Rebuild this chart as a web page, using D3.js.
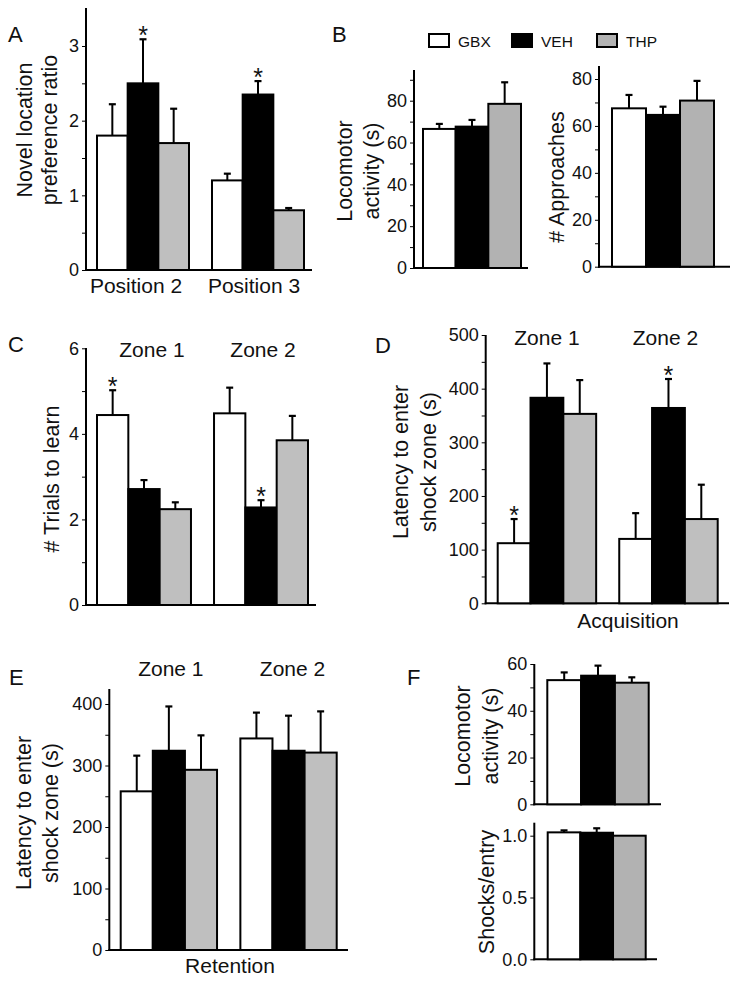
<!DOCTYPE html>
<html>
<head>
<meta charset="utf-8">
<script src="https://cdn.jsdelivr.net/npm/d3@7"></script>
<style>
  body { margin: 0; background: #fff; }
  svg { display: block; }
  text { font-family: "Liberation Sans", Arial, sans-serif; fill: #111; }
</style>
</head>
<body>
<svg width="739" height="985"></svg>
<script>
// groups shown in every panel
const groups = ["GBX", "VEH", "THP"]

// A - novel location preference
const posCategories = ["Position 2", "Position 3"]
const prefMeans = [[1.80, 2.50, 1.70], [1.20, 2.35, 0.80]]
const prefErrors = [[0.42, 0.59, 0.46], [0.09, 0.18, 0.03]]
const prefStars = [[1], [1]]

// B - locomotor activity and approaches
const locoMeansB = [[66.5, 67.6, 78.5]]
const locoErrorsB = [[2.4, 3.2, 10.3]]
const approachMeans = [[67.5, 64.7, 70.8]]
const approachErrors = [[5.7, 3.5, 8.4]]

// C - trials to learn
const zoneCategories = ["Zone 1", "Zone 2"]
const trialMeans = [[4.44, 2.71, 2.24], [4.48, 2.28, 3.85]]
const trialErrors = [[0.58, 0.21, 0.16], [0.60, 0.17, 0.57]]
const trialStars = [[0], [1]]

// D - acquisition latency
const acqMeans = [[112, 383, 353], [120, 364, 157]]
const acqErrors = [[45, 64, 63], [48, 54, 64]]
const acqStars = [[0], [1]]

// E - retention latency
const retMeans = [[258, 324, 293], [344, 324, 321]]
const retErrors = [[58, 72, 56], [42, 57, 67]]

// F - locomotor activity and shocks/entry
const locoMeansF = [[53.1, 55.0, 52.0]]
const locoErrorsF = [[3.3, 4.3, 2.3]]
const shockMeans = [[1.027, 1.024, 1.0]]
const shockErrors = [[0.016, 0.036, 0]]

const font = "'Liberation Sans', Arial, sans-serif"
const fillLight = ["#ffffff", "#000000", "#bfbfbf"]
const fillDark = ["#ffffff", "#000000", "#b2b2b2"]

let svg = d3.select("svg")

function drawPanel(svg, p) {
    const g = svg.append("g")
    const cats = p.cats || [""]
    const x = d3.scaleBand().domain(cats).range(p.xRange).paddingInner(p.pad || 0)
    const xg = d3.scaleBand().domain(groups).range([0, x.bandwidth()])
    const y = d3.scaleLinear().domain(p.domain).range(p.yRange)

    const rows = []
    cats.forEach((c, i) => {
        groups.forEach((gr, j) => {
            rows.push({
                cat: c, grp: gr, j: j,
                m: p.means[i][j], e: p.errs[i][j],
                star: p.stars ? p.stars[i].includes(j) : false
            })
        })
    })

    // axes
    const yAxis = g.append("g")
        .attr("transform", `translate(${p.axisX},0)`)
        .call(d3.axisLeft(y).tickValues(p.major).tickSize(4).tickPadding(3)
            .tickFormat(p.fmt || d3.format("d")))
        .attr("font-family", font)
        .attr("font-size", 18)
    yAxis.select(".domain").remove()
    yAxis.selectAll("text").style("fill", "#111")

    if (p.minor && p.minor.length) {
        const minorAxis = g.append("g")
            .attr("transform", `translate(${p.axisX},0)`)
            .call(d3.axisLeft(y).tickValues(p.minor).tickSize(4).tickFormat(""))
        minorAxis.select(".domain").remove()
    }

    g.append("line")
        .attr("x1", p.axisX).attr("x2", p.axisX)
        .attr("y1", y(0) + 1).attr("y2", p.axisTop)
        .attr("stroke", "#000").attr("stroke-width", 2)
    g.append("line")
        .attr("x1", p.axisX - 1).attr("x2", p.axisRight)
        .attr("y1", y(0)).attr("y2", y(0))
        .attr("stroke", "#000").attr("stroke-width", 2)

    // bars
    g.selectAll(".bar")
        .data(rows)
        .enter()
        .append("rect")
        .attr("class", "bar")
        .attr("x", d => x(d.cat) + xg(d.grp))
        .attr("width", xg.bandwidth())
        .attr("y", d => y(d.m))
        .attr("height", d => y(0) - y(d.m))
        .style("fill", d => p.fills[d.j])
        .style("stroke", "#000")
        .style("stroke-width", 2)

    // error bars
    const cx = d => x(d.cat) + xg(d.grp) + xg.bandwidth() / 2
    const errRows = rows.filter(d => d.e > 0)
    g.selectAll(".err")
        .data(errRows)
        .enter()
        .append("line")
        .attr("x1", cx).attr("x2", cx)
        .attr("y1", d => y(d.m)).attr("y2", d => y(d.m + d.e))
        .style("stroke", "#000").style("stroke-width", 2)
    g.selectAll(".cap")
        .data(errRows)
        .enter()
        .append("line")
        .attr("x1", d => cx(d) - 3.5).attr("x2", d => cx(d) + 3.5)
        .attr("y1", d => y(d.m + d.e)).attr("y2", d => y(d.m + d.e))
        .style("stroke", "#000").style("stroke-width", 2.2)

    // significance stars
    g.selectAll(".star")
        .data(rows.filter(d => d.star))
        .enter()
        .append("text")
        .attr("x", cx)
        .attr("y", d => y(d.m + d.e) + 5)
        .attr("text-anchor", "middle")
        .attr("font-size", 25)
        .text("*")

    // category / zone labels
    if (p.catLabels) {
        g.selectAll(".catlabel")
            .data(cats)
            .enter()
            .append("text")
            .attr("x", (c, i) => x(c) + x.bandwidth() / 2 + p.catLabels.dx[i])
            .attr("y", p.catLabels.y)
            .attr("text-anchor", "middle")
            .attr("font-size", 21)
            .text(c => c)
    }

    if (p.bottom) {
        g.append("text")
            .attr("x", p.bottom.x).attr("y", p.bottom.y)
            .attr("text-anchor", "middle")
            .attr("font-size", 21)
            .text(p.bottom.text)
    }

    // y title
    p.title.lines.forEach((t, i) => {
        g.append("text")
            .attr("transform", `translate(${p.title.x[i]},${p.title.y}) rotate(-90)`)
            .attr("text-anchor", "middle")
            .attr("dominant-baseline", "central")
            .attr("font-size", 21.5)
            .text(t)
    })

    if (p.letter) {
        g.append("text")
            .attr("x", p.letter.x).attr("y", p.letter.y)
            .attr("font-size", 22)
            .text(p.letter.t)
    }
}

// A
drawPanel(svg, {
    cats: posCategories, means: prefMeans, errs: prefErrors, stars: prefStars,
    fills: fillLight,
    xRange: [97, 304], pad: 0.2,
    domain: [0, 3], yRange: [270, 46],
    axisX: 86, axisTop: 8, axisRight: 312,
    major: [0, 1, 2, 3], minor: [0.5, 1.5, 2.5],
    title: {lines: ["Novel location", "preference ratio"], x: [25, 50], y: 130},
    catLabels: {dx: [-7, -4], y: 293},
    letter: {t: "A", x: 8, y: 42}
})

// B left
drawPanel(svg, {
    means: locoMeansB, errs: locoErrorsB, fills: fillDark,
    xRange: [423, 521],
    domain: [0, 80], yRange: [268, 100.7],
    axisX: 414, axisTop: 70, axisRight: 528,
    major: [0, 20, 40, 60, 80], minor: [10, 30, 50, 70, 90],
    title: {lines: ["Locomotor", "activity (s)"], x: [345, 372], y: 171},
    letter: {t: "B", x: 332, y: 42}
})

// B right
drawPanel(svg, {
    means: approachMeans, errs: approachErrors, fills: fillDark,
    xRange: [612, 714],
    domain: [0, 80], yRange: [266.7, 79],
    axisX: 599, axisTop: 66, axisRight: 730,
    major: [0, 20, 40, 60, 80], minor: [10, 30, 50, 70],
    title: {lines: ["# Approaches"], x: [557], y: 177}
})

// legend
const legend = svg.append("g")
const legendPos = {GBX: 429, VEH: 512, THP: 597}
legend.selectAll("rect")
    .data(groups)
    .enter()
    .append("rect")
    .attr("x", d => legendPos[d]).attr("y", 34)
    .attr("width", 20).attr("height", 13)
    .style("fill", (d, i) => fillDark[i])
    .style("stroke", "#000").style("stroke-width", 2)
legend.selectAll("text")
    .data(groups)
    .enter()
    .append("text")
    .attr("x", d => legendPos[d] + 29).attr("y", 47)
    .attr("font-size", 15.5)
    .text(d => d)

// C
drawPanel(svg, {
    cats: zoneCategories, means: trialMeans, errs: trialErrors, stars: trialStars,
    fills: fillLight,
    xRange: [97, 308], pad: 0.197,
    domain: [0, 6], yRange: [605, 348.3],
    axisX: 86, axisTop: 348, axisRight: 316,
    major: [0, 2, 4, 6], minor: [1, 3, 5],
    title: {lines: ["# Trials to learn"], x: [52], y: 479},
    catLabels: {dx: [8, 2], y: 357},
    letter: {t: "C", x: 8, y: 352}
})

// D
drawPanel(svg, {
    cats: zoneCategories, means: acqMeans, errs: acqErrors, stars: acqStars,
    fills: fillLight,
    xRange: [497.7, 717.7], pad: 0.19,
    domain: [0, 500], yRange: [603.3, 335],
    axisX: 485.7, axisTop: 335, axisRight: 729,
    major: [0, 100, 200, 300, 400, 500], minor: [50, 150, 250, 350, 450],
    title: {lines: ["Latency to enter", "shock zone (s)"], x: [401, 429], y: 462},
    catLabels: {dx: [0, -3], y: 345},
    bottom: {text: "Acquisition", x: 628, y: 628},
    letter: {t: "D", x: 375, y: 353}
})

// E
drawPanel(svg, {
    cats: zoneCategories, means: retMeans, errs: retErrors,
    fills: fillLight,
    xRange: [120.7, 336.7], pad: 0.195,
    domain: [0, 400], yRange: [950, 704],
    axisX: 109.3, axisTop: 689, axisRight: 348,
    major: [0, 100, 200, 300, 400], minor: [50, 150, 250, 350],
    title: {lines: ["Latency to enter", "shock zone (s)"], x: [24, 51], y: 813},
    catLabels: {dx: [2, 4], y: 676},
    bottom: {text: "Retention", x: 230, y: 973},
    letter: {t: "E", x: 9, y: 685}
})

// F top
drawPanel(svg, {
    means: locoMeansF, errs: locoErrorsF, fills: fillDark,
    xRange: [547.3, 648.7],
    domain: [0, 60], yRange: [804.3, 664],
    axisX: 534.3, axisTop: 664, axisRight: 661,
    major: [0, 20, 40, 60], minor: [10, 30, 50],
    title: {lines: ["Locomotor", "activity (s)"], x: [463, 491], y: 736},
    letter: {t: "F", x: 407, y: 685}
})

// F bottom
drawPanel(svg, {
    means: shockMeans, errs: shockErrors, fills: fillDark,
    xRange: [547.7, 645.7],
    domain: [0, 1], yRange: [959.3, 835.7],
    axisX: 534.3, axisTop: 822.7, axisRight: 657,
    major: [0, 0.5, 1], minor: [], fmt: d3.format(".1f"),
    title: {lines: ["Shocks/entry"], x: [487], y: 892}
})
</script>
</body>
</html>
